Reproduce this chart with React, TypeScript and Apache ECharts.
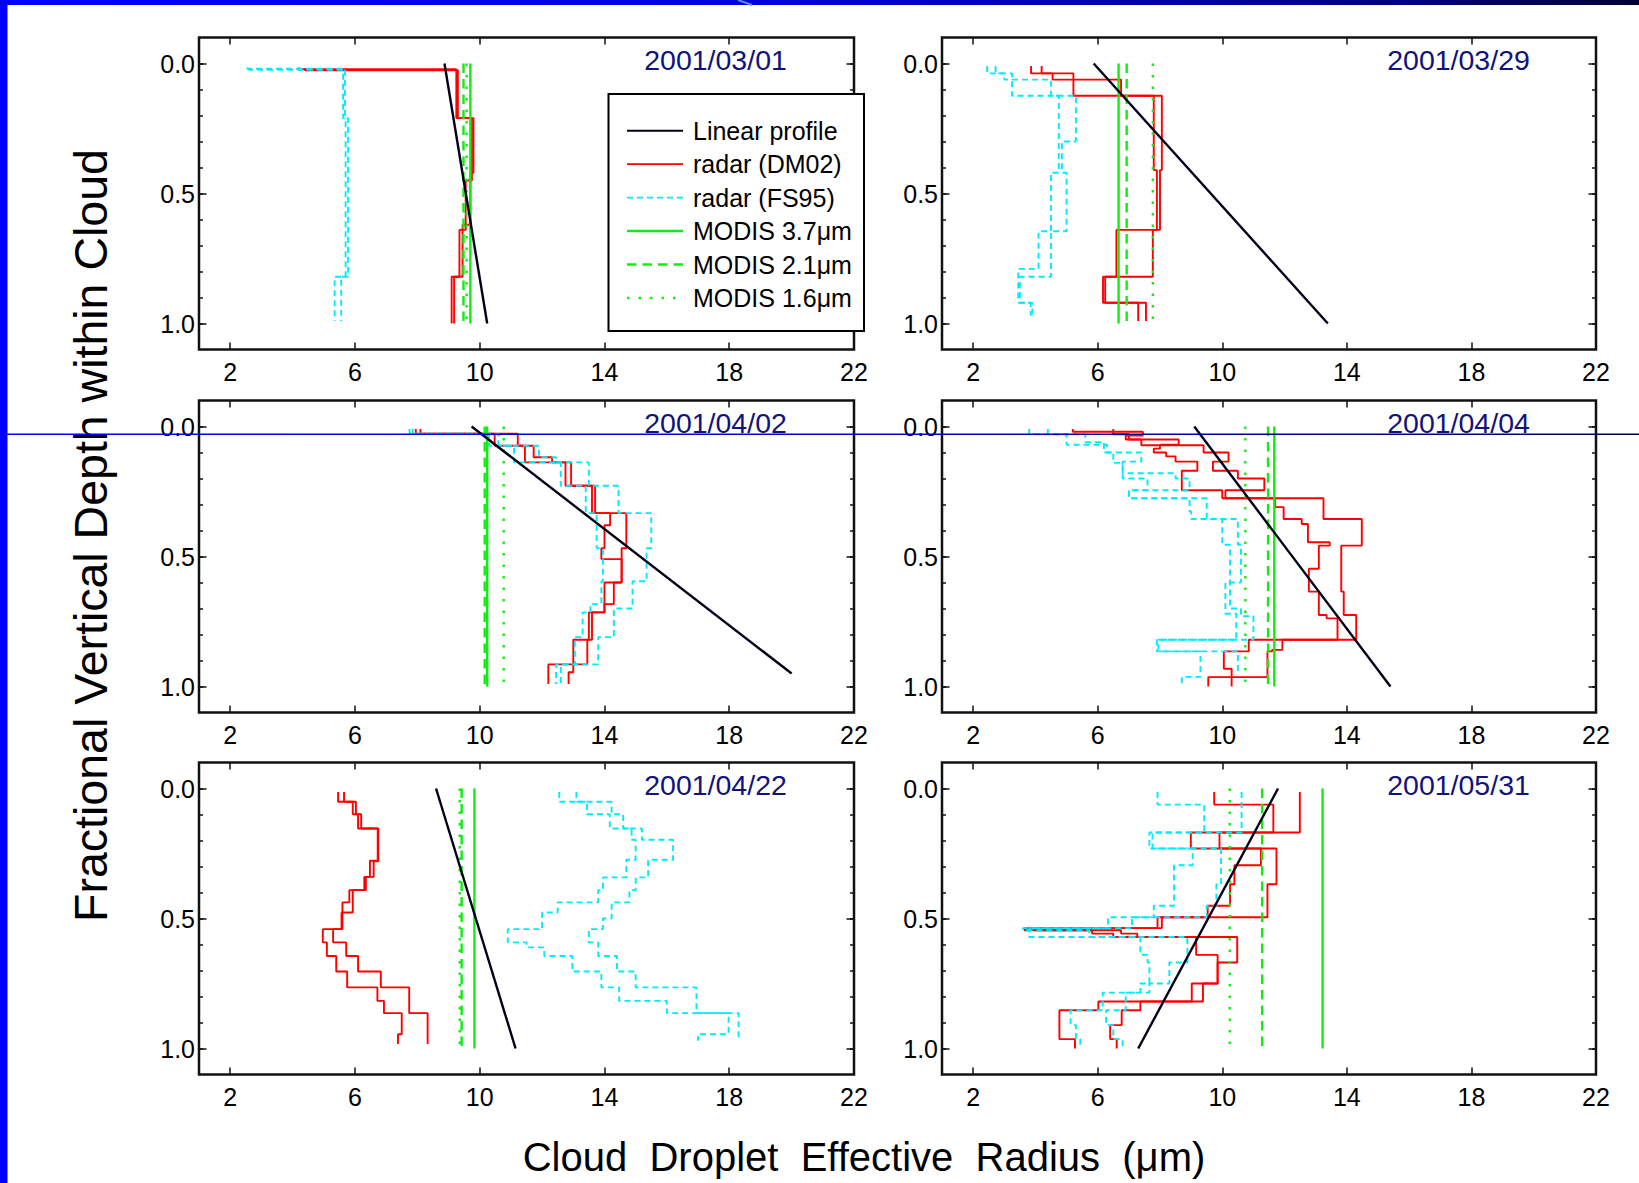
import React, { useEffect, useRef } from "react";
import * as echarts from "echarts";

// ---------- axis / text content ----------
const X_TICKS = [2, 6, 10, 14, 18, 22];
const Y_MAJOR = [0, 0.5, 1];
const Y_MINOR = [0, 0.1, 0.2, 0.3, 0.4, 0.5, 0.6, 0.7, 0.8, 0.9, 1];
const DATES = ["2001/03/01", "2001/03/29", "2001/04/02", "2001/04/04", "2001/04/22", "2001/05/31"];
const LEGEND_NAMES = ["Linear profile", "radar (DM02)", "radar (FS95)", "MODIS 3.7μm", "MODIS 2.1μm", "MODIS 1.6μm"];
const Y_TITLE = "Fractional Vertical Depth within Cloud";
const X_TITLE = "Cloud  Droplet  Effective  Radius  (μm)";

// ---------- MODIS retrievals (μm), one per panel ----------
const MODIS_37 = [9.7, 6.67, 10.24, 11.67, 9.83, 13.22];
const MODIS_21 = [9.48, 6.93, 10.16, 11.47, 9.42, 11.28];
const MODIS_16 = [9.58, 7.77, 10.77, 10.74, 9.36, 10.24];

// ---------- Linear profile: radius at top, radius at end, end depth ----------
const LIN_TOP = [8.87, 5.87, 9.74, 9.1, 8.6, 11.79];
const LIN_END = [10.24, 13.39, 20.0, 15.4, 11.15, 7.3];
const LIN_END_DEPTH = [1, 1, 0.95, 1, 1, 1];

// ---------- radar step profiles: layer-edge depths (z) and radii (r) ----------
// 2001/03/01
const p1_dm02a_z = [0.015, 0.022, 0.21, 0.42, 0.62, 0.82, 1.0];
const p1_dm02a_r = [4.2, 9.25, 9.8, 9.7, 9.45, 9.1];
const p1_dm02b_z = [0.018, 0.026, 0.21, 0.45, 0.64, 0.82, 1.0];
const p1_dm02b_r = [4.4, 9.3, 9.75, 9.55, 9.35, 9.18];
const p1_fs95a_z = [0.015, 0.02, 0.21, 0.82, 0.99];
const p1_fs95a_r = [2.55, 5.68, 5.78, 5.56];
const p1_fs95b_z = [0.017, 0.024, 0.21, 0.82, 0.99];
const p1_fs95b_r = [2.6, 5.62, 5.7, 5.35];

// 2001/03/29
const p2_dm02a_z = [0.01, 0.038, 0.062, 0.124, 0.41, 0.64, 0.82, 0.92, 0.99];
const p2_dm02a_r = [3.86, 4.55, 6.75, 8.06, 8.0, 6.6, 6.17, 7.3];
const p2_dm02b_z = [0.01, 0.038, 0.124, 0.41, 0.64, 0.82, 0.92, 0.99];
const p2_dm02b_r = [4.2, 5.22, 7.8, 7.9, 7.77, 6.24, 7.55];
const p2_fs95a_z = [0.01, 0.038, 0.124, 0.3, 0.42, 0.645, 0.82, 0.92, 0.97];
const p2_fs95a_r = [2.45, 3.25, 5.3, 4.85, 5.0, 4.5, 3.5, 3.85];
const p2_fs95b_z = [0.01, 0.038, 0.062, 0.124, 0.42, 0.645, 0.79, 0.92, 0.98];
const p2_fs95b_r = [2.72, 3.0, 4.5, 4.75, 4.5, 4.1, 3.45, 3.9];

// 2001/04/02
const p3_dm02a_z = [0.01, 0.028, 0.074, 0.118, 0.138, 0.228, 0.333, 0.468, 0.6, 0.683, 0.715, 0.82, 0.915, 0.99];
const p3_dm02a_r = [7.95, 11.22, 11.73, 12.32, 12.93, 13.7, 14.7, 14.55, 14.3, 14.0, 13.6, 13.45, 12.2];
const p3_dm02b_z = [0.01, 0.028, 0.074, 0.138, 0.228, 0.333, 0.38, 0.468, 0.51, 0.6, 0.715, 0.82, 0.945, 0.99];
const p3_dm02b_r = [8.1, 10.48, 11.45, 12.75, 13.6, 14.18, 14.0, 13.9, 14.55, 14.0, 13.5, 13.0, 12.85];
const p3_fs95a_z = [0.01, 0.028, 0.074, 0.118, 0.138, 0.228, 0.333, 0.468, 0.595, 0.7, 0.81, 0.915, 0.99];
const p3_fs95a_r = [7.75, 10.6, 11.9, 12.45, 13.5, 14.45, 15.5, 15.35, 14.9, 14.3, 13.8, 12.6];
const p3_fs95b_z = [0.01, 0.028, 0.074, 0.138, 0.228, 0.333, 0.468, 0.595, 0.683, 0.715, 0.81, 0.915, 0.99];
const p3_fs95b_r = [7.85, 10.3, 11.1, 12.6, 13.4, 13.75, 13.95, 13.9, 13.55, 13.3, 13.05, 12.45];

// 2001/04/04
const p4_dm02a_z = [0.01, 0.02, 0.035, 0.05, 0.072, 0.1, 0.135, 0.17, 0.2, 0.245, 0.276, 0.356, 0.458, 0.635, 0.725, 0.82, 0.865, 0.932, 1.0];
const p4_dm02a_r = [5.2, 7.45, 6.9, 7.4, 9.4, 10.2, 9.7, 10.5, 11.35, 10.1, 13.25, 14.48, 13.82, 13.9, 14.3, 10.85, 10.05, 10.3];
const p4_dm02b_z = [0.01, 0.03, 0.05, 0.07, 0.085, 0.1, 0.115, 0.135, 0.17, 0.245, 0.276, 0.31, 0.356, 0.375, 0.445, 0.458, 0.547, 0.635, 0.725, 0.738, 0.82, 0.859, 0.865, 0.964, 1.0];
const p4_dm02b_r = [6.5, 7.0, 8.6, 8.0, 7.8, 8.2, 8.5, 9.2, 8.7, 10.0, 11.7, 11.97, 12.55, 12.75, 13.45, 13.1, 12.78, 13.1, 13.35, 13.7, 11.93, 11.6, 11.45, 9.55];
const p4_fs95a_z = [0.01, 0.03, 0.07, 0.1, 0.135, 0.18, 0.2, 0.245, 0.276, 0.327, 0.356, 0.455, 0.7, 0.73, 0.82, 0.865, 0.963, 0.99];
const p4_fs95a_r = [3.8, 5.0, 6.3, 7.4, 6.8, 8.5, 8.95, 7.0, 9.5, 9.5, 10.0, 10.25, 10.6, 11.0, 7.9, 9.3, 8.7];
const p4_fs95b_z = [0.01, 0.03, 0.06, 0.1, 0.14, 0.2, 0.245, 0.276, 0.327, 0.356, 0.455, 0.6, 0.72, 0.82, 0.865, 0.955];
const p4_fs95b_r = [4.4, 5.6, 6.2, 6.5, 6.8, 7.6, 7.0, 8.95, 9.0, 10.5, 10.6, 10.1, 10.45, 7.95, 10.5];

// 2001/04/22
const p5_dm02a_z = [0.013, 0.051, 0.099, 0.154, 0.278, 0.34, 0.391, 0.438, 0.541, 0.592, 0.644, 0.704, 0.765, 0.817, 0.864, 0.945, 0.983];
const p5_dm02a_r = [5.46, 6.03, 6.2, 6.73, 6.48, 6.3, 5.82, 5.6, 4.97, 5.1, 5.4, 5.75, 6.72, 6.93, 7.5, 7.38];
const p5_dm02b_z = [0.013, 0.051, 0.099, 0.154, 0.28, 0.34, 0.391, 0.477, 0.541, 0.592, 0.644, 0.704, 0.765, 0.864, 0.983];
const p5_dm02b_r = [5.65, 5.93, 6.1, 6.75, 6.6, 6.35, 5.93, 5.57, 5.3, 5.72, 6.1, 6.83, 7.74, 8.33];
const p5_fs95a_z = [0.013, 0.051, 0.099, 0.154, 0.197, 0.274, 0.342, 0.391, 0.438, 0.5, 0.541, 0.592, 0.644, 0.704, 0.765, 0.864, 0.97];
const p5_fs95a_r = [13.1, 14.23, 14.6, 15.2, 16.2, 15.4, 15.0, 14.8, 14.23, 13.95, 13.5, 13.8, 14.4, 15.0, 16.95, 18.3];
const p5_fs95b_z = [0.013, 0.051, 0.099, 0.154, 0.197, 0.274, 0.342, 0.391, 0.438, 0.477, 0.541, 0.592, 0.611, 0.644, 0.704, 0.765, 0.817, 0.864, 0.945, 0.97];
const p5_fs95b_r = [12.55, 13.44, 14.17, 14.87, 15.0, 14.7, 13.95, 13.8, 12.5, 12.0, 10.9, 11.5, 12.07, 12.97, 13.9, 14.47, 16.0, 17.98, 17.0];

// 2001/05/31
const p6_dm02a_z = [0.013, 0.169, 0.231, 0.368, 0.495, 0.537, 0.545, 0.558, 0.571, 0.669, 0.75, 0.819, 0.853, 0.964, 1.0];
const p6_dm02a_r = [12.49, 8.99, 11.74, 11.45, 7.92, 3.65, 5.82, 6.5, 10.48, 9.85, 9.38, 6.02, 4.77, 5.27];
const p6_dm02b_z = [0.013, 0.062, 0.169, 0.231, 0.295, 0.368, 0.451, 0.495, 0.537, 0.545, 0.558, 0.571, 0.64, 0.75, 0.819, 0.853, 0.91, 0.964, 1.0];
const p6_dm02b_r = [9.74, 11.64, 9.91, 11.24, 10.39, 10.25, 9.53, 8.06, 4.0, 6.75, 7.27, 9.16, 9.85, 9.02, 7.37, 6.77, 6.4, 6.61];
const p6_fs95a_z = [0.013, 0.062, 0.169, 0.231, 0.295, 0.451, 0.495, 0.537, 0.545, 0.571, 0.64, 0.669, 0.75, 0.785, 0.853, 0.91, 0.964, 1.0];
const p6_fs95a_r = [7.92, 9.42, 7.76, 9.05, 8.45, 7.8, 6.33, 3.6, 5.73, 7.37, 7.6, 7.66, 7.37, 6.16, 5.13, 5.3, 5.44];
const p6_fs95b_z = [0.013, 0.169, 0.231, 0.368, 0.451, 0.495, 0.537, 0.571, 0.669, 0.75, 0.785, 0.853, 0.91, 0.964, 1.0];
const p6_fs95b_r = [10.62, 7.66, 9.96, 9.81, 9.5, 7.1, 3.8, 8.88, 8.3, 7.66, 6.9, 6.27, 6.5, 6.8];

const PANELS = [
  { dm02: [[p1_dm02a_z, p1_dm02a_r], [p1_dm02b_z, p1_dm02b_r]], fs95: [[p1_fs95a_z, p1_fs95a_r], [p1_fs95b_z, p1_fs95b_r]] },
  { dm02: [[p2_dm02a_z, p2_dm02a_r], [p2_dm02b_z, p2_dm02b_r]], fs95: [[p2_fs95a_z, p2_fs95a_r], [p2_fs95b_z, p2_fs95b_r]] },
  { dm02: [[p3_dm02a_z, p3_dm02a_r], [p3_dm02b_z, p3_dm02b_r]], fs95: [[p3_fs95a_z, p3_fs95a_r], [p3_fs95b_z, p3_fs95b_r]] },
  { dm02: [[p4_dm02a_z, p4_dm02a_r], [p4_dm02b_z, p4_dm02b_r]], fs95: [[p4_fs95a_z, p4_fs95a_r], [p4_fs95b_z, p4_fs95b_r]] },
  { dm02: [[p5_dm02a_z, p5_dm02a_r], [p5_dm02b_z, p5_dm02b_r]], fs95: [[p5_fs95a_z, p5_fs95a_r], [p5_fs95b_z, p5_fs95b_r]] },
  { dm02: [[p6_dm02a_z, p6_dm02a_r], [p6_dm02b_z, p6_dm02b_r]], fs95: [[p6_fs95a_z, p6_fs95a_r], [p6_fs95b_z, p6_fs95b_r]] },
];

// ---------- layout & style ----------
const W = 1639;
const H = 1183;
const COL_LEFT = [199, 942];
const COL_WIDTH = [655, 654];
const ROW_TOP = [37.5, 400.5, 762.5];
const GRID_H = 312;
const FONT = "'Liberation Sans', Arial, Helvetica, sans-serif";
const RED = "#ff0000";
const CYAN = "#00ecfa";
const GREEN = "#10ee10";
const NAVY = "#12127c";
const DASH_CYAN = [6, 4];
const DASH_GREEN = [9.5, 6];
const DOT_GREEN = [2.5, 9];

function stepLine(z: number[], r: number[]) {
  const pts: number[][] = [];
  for (let i = 0; i < r.length; i++) {
    pts.push([r[i], z[i]], [r[i], z[i + 1]]);
  }
  return pts;
}

function buildOption() {
  const grids: any[] = [];
  const xAxes: any[] = [];
  const yAxes: any[] = [];
  const series: any[] = [];
  const tickLine = { color: "#111", width: 1.5 };
  const labelStyle = { fontSize: 25, color: "#000", fontFamily: FONT };

  PANELS.forEach((p, i) => {
    const col = i % 2;
    const row = Math.floor(i / 2);
    grids.push({
      left: COL_LEFT[col],
      top: ROW_TOP[row],
      width: COL_WIDTH[col],
      height: GRID_H,
      show: true,
      borderColor: "#111",
      borderWidth: 2.5,
      backgroundColor: "transparent",
      containLabel: false,
      outerBoundsMode: "none",
    });
    const xBase = {
      gridIndex: i,
      type: "value",
      min: 1,
      max: 22,
      splitLine: { show: false },
      minorTick: { show: false },
      axisLine: { show: false, onZero: false },
    };
    xAxes.push({
      ...xBase,
      position: "bottom",
      axisTick: { show: true, inside: true, length: 7, customValues: X_TICKS, lineStyle: tickLine },
      axisLabel: { show: true, customValues: X_TICKS, margin: 10, ...labelStyle },
    });
    xAxes.push({
      ...xBase,
      position: "top",
      axisTick: { show: true, inside: true, length: 7, customValues: X_TICKS, lineStyle: tickLine },
      axisLabel: { show: false },
    });
    const yBase = {
      gridIndex: i,
      type: "value",
      min: -0.1,
      max: 1.1,
      inverse: true,
      splitLine: { show: false },
      minorTick: { show: false },
      axisLine: { show: false, onZero: false },
    };
    ["left", "right"].forEach((pos) => {
      yAxes.push({
        ...yBase,
        position: pos,
        axisTick: { show: true, inside: true, length: 7.5, customValues: Y_MAJOR, lineStyle: tickLine },
        axisLabel:
          pos === "left"
            ? {
                show: true,
                customValues: Y_MAJOR,
                margin: 4,
                formatter: (v: any) => Number(v).toFixed(1),
                ...labelStyle,
              }
            : { show: false },
      });
      yAxes.push({
        ...yBase,
        position: pos,
        axisTick: { show: true, inside: true, length: 4, customValues: Y_MINOR, lineStyle: tickLine },
        axisLabel: { show: false },
      });
    });

    const xi = i * 2;
    const yi = i * 4;
    const base = { type: "line", xAxisIndex: xi, yAxisIndex: yi, symbol: "none", showSymbol: false, silent: true, animation: false };

    p.dm02.forEach(([z, r]) => {
      series.push({ ...base, name: LEGEND_NAMES[1], z: 2, data: stepLine(z, r), lineStyle: { color: RED, width: 1.9 } });
    });
    p.fs95.forEach(([z, r]) => {
      series.push({ ...base, name: LEGEND_NAMES[2], z: 3, data: stepLine(z, r), lineStyle: { color: CYAN, width: 1.9, type: DASH_CYAN } });
    });
    series.push({ ...base, name: LEGEND_NAMES[3], z: 4, data: [[MODIS_37[i], 0], [MODIS_37[i], 1]], lineStyle: { color: GREEN, width: 2.4 } });
    series.push({ ...base, name: LEGEND_NAMES[4], z: 4, data: [[MODIS_21[i], 0], [MODIS_21[i], 1]], lineStyle: { color: GREEN, width: 2.4, type: DASH_GREEN } });
    series.push({ ...base, name: LEGEND_NAMES[5], z: 4, data: [[MODIS_16[i], 0], [MODIS_16[i], 1]], lineStyle: { color: GREEN, width: 2.4, type: DOT_GREEN } });
    series.push({ ...base, name: LEGEND_NAMES[0], z: 5, data: [[LIN_TOP[i], 0], [LIN_END[i], LIN_END_DEPTH[i]]], lineStyle: { color: "#000018", width: 2.4 } });
  });

  // ---------- graphic decorations, texts and legend ----------
  const graphic: any[] = [];
  graphic.push({
    type: "rect",
    z: 100,
    shape: { x: 0, y: 0, width: W, height: 5 },
    style: {
      fill: new echarts.graphic.LinearGradient(0, 0, 1, 0, [
        { offset: 0, color: "#0000ff" },
        { offset: 0.45, color: "#0000e2" },
        { offset: 0.8, color: "#000090" },
        { offset: 1, color: "#000035" },
      ]),
    },
  });
  graphic.push({ type: "line", z: 101, shape: { x1: 738, y1: 0, x2: 752, y2: 5 }, style: { stroke: "#5a8cff", lineWidth: 2 } });
  graphic.push({ type: "rect", z: 100, shape: { x: 0, y: 0, width: 7.5, height: H }, style: { fill: "#0000ff" } });
  graphic.push({
    type: "rect",
    z: 100,
    shape: { x: 0, y: 433.6, width: W, height: 1.3 },
    style: {
      fill: new echarts.graphic.LinearGradient(0, 0, 1, 0, [
        { offset: 0, color: "#0000ff" },
        { offset: 0.5, color: "#0000d8" },
        { offset: 0.75, color: "#000090" },
        { offset: 1, color: "#000050" },
      ]),
    },
  });

  DATES.forEach((d, i) => {
    const col = i % 2;
    const row = Math.floor(i / 2);
    graphic.push({
      type: "text",
      z: 20,
      x: COL_LEFT[col] + 516.5,
      y: ROW_TOP[row] + 22,
      style: { text: d, fill: NAVY, font: `28.5px ${FONT}`, textAlign: "center", textVerticalAlign: "middle" },
    });
  });

  graphic.push({
    type: "text",
    z: 20,
    x: 91,
    y: 535.5,
    rotation: Math.PI / 2,
    style: { text: Y_TITLE, fill: "#000", font: `46.5px ${FONT}`, textAlign: "center", textVerticalAlign: "middle" },
  });
  graphic.push({
    type: "text",
    z: 20,
    x: 864,
    y: 1157,
    style: { text: X_TITLE, fill: "#000", font: `40px ${FONT}`, textAlign: "center", textVerticalAlign: "middle" },
  });

  // legend box
  graphic.push({
    type: "rect",
    z: 50,
    shape: { x: 608.5, y: 94, width: 255.5, height: 237 },
    style: { fill: "#fff", stroke: "#000", lineWidth: 2 },
  });
  const legendStyles = [
    { stroke: "#000018", lineWidth: 2, lineDash: null as any },
    { stroke: RED, lineWidth: 1.8, lineDash: null as any },
    { stroke: CYAN, lineWidth: 1.8, lineDash: DASH_CYAN },
    { stroke: GREEN, lineWidth: 2.4, lineDash: null as any },
    { stroke: GREEN, lineWidth: 2.4, lineDash: DASH_GREEN },
    { stroke: GREEN, lineWidth: 2.4, lineDash: DOT_GREEN },
  ];
  LEGEND_NAMES.forEach((name, k) => {
    const y = 130.7 + k * 33.45;
    const st: any = { stroke: legendStyles[k].stroke, lineWidth: legendStyles[k].lineWidth };
    if (legendStyles[k].lineDash) st.lineDash = legendStyles[k].lineDash;
    graphic.push({ type: "line", z: 51, shape: { x1: 627, y1: y, x2: 683, y2: y }, style: st });
    graphic.push({
      type: "text",
      z: 51,
      x: 693,
      y: y,
      style: { text: name, fill: "#000", font: `25px ${FONT}`, textAlign: "left", textVerticalAlign: "middle" },
    });
  });

  return {
    animation: false,
    backgroundColor: "#ffffff",
    textStyle: { fontFamily: FONT },
    grid: grids,
    xAxis: xAxes,
    yAxis: yAxes,
    series,
    graphic,
  };
}

export default function App() {
  const ref = useRef<HTMLDivElement>(null);
  useEffect(() => {
    if (!ref.current) return;
    const chart = echarts.init(ref.current, null, { renderer: "svg", width: W, height: H });
    chart.setOption(buildOption() as any);
    return () => {
      chart.dispose();
    };
  }, []);
  return (
    <div
      ref={ref}
      style={{ position: "fixed", left: 0, top: 0, width: W, height: H, background: "#fff" }}
    />
  );
}
